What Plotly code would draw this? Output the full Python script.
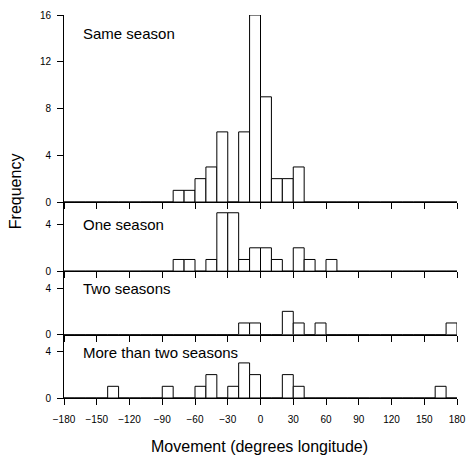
import plotly.graph_objects as go

bin_left = [-180, -170, -160, -150, -140, -130, -120, -110, -100, -90,
            -80, -70, -60, -50, -40, -30, -20, -10, 0, 10,
            20, 30, 40, 50, 60, 70, 80, 90, 100, 110,
            120, 130, 140, 150, 160, 170]

same_season = [0, 0, 0, 0, 0, 0, 0, 0, 0, 0,
               1, 1, 2, 3, 6, 0, 6, 16, 9, 2,
               2, 3, 0, 0, 0, 0, 0, 0, 0, 0,
               0, 0, 0, 0, 0, 0]
one_season = [0, 0, 0, 0, 0, 0, 0, 0, 0, 0,
              1, 1, 0, 1, 5, 5, 1, 2, 2, 1,
              0, 2, 1, 0, 1, 0, 0, 0, 0, 0,
              0, 0, 0, 0, 0, 0]
two_seasons = [0, 0, 0, 0, 0, 0, 0, 0, 0, 0,
               0, 0, 0, 0, 0, 0, 1, 1, 0, 0,
               2, 1, 0, 1, 0, 0, 0, 0, 0, 0,
               0, 0, 0, 0, 0, 1]
more_than_two = [0, 0, 0, 0, 1, 0, 0, 0, 0, 1,
                 0, 0, 1, 2, 0, 1, 3, 2, 0, 0,
                 2, 1, 0, 0, 0, 0, 0, 0, 0, 0,
                 0, 0, 0, 0, 1, 0]

panel_labels = ["Same season", "One season", "Two seasons", "More than two seasons"]
x_ticks = [-180, -150, -120, -90, -60, -30, 0, 30, 60, 90, 120, 150, 180]
series = [same_season, one_season, two_seasons, more_than_two]

FONT = "Liberation Sans, Arial, sans-serif"
W, H = 475, 459
# plot area in screenshot pixels
px_left, px_right, px_top, px_bottom = 64, 466, 13, 398
ml = px_left
mr = W - px_right
mt = px_top
mb = H - px_bottom
plot_h = px_bottom - px_top
plot_w = px_right - px_left
# panel boundaries (screenshot pixels)
bounds = [13, 201, 270.5, 334.3, 398]
y_max = [16, 5.92, 5.45, 5.42]
y_tickvals = [[0, 4, 8, 12, 16], [0, 4], [0, 4], [0, 4]]


def py_to_paper(py):
    return 1 - (py - px_top) / plot_h


fig = go.Figure()
layout = dict(
    width=W, height=H,
    margin=dict(l=ml, r=mr, t=mt, b=mb),
    paper_bgcolor="white", plot_bgcolor="white",
    showlegend=False,
    font=dict(family=FONT, color="black"),
    bargap=0,
    hovermode=False,
)
for i, counts in enumerate(series):
    n = "" if i == 0 else str(i + 1)
    fig.add_trace(go.Bar(
        x=bin_left, y=counts, width=10, offset=0, cliponaxis=False,
        marker=dict(color="white", line=dict(color="black", width=1)),
        xaxis="x" + n, yaxis="y" + n, hoverinfo="skip",
    ))
    layout["xaxis" + n] = dict(
        domain=[0, 1], range=[-180, 180], anchor="y" + n,
        tickvals=x_ticks, showticklabels=(i == 3),
        ticks="outside", ticklen=6, tickcolor="black", tickwidth=1,
        showline=True, linecolor="black", linewidth=1,
        showgrid=False, zeroline=False,
        tickfont=dict(size=10, family=FONT, color="black"),
        ticklabelstandoff=6,
    )
    layout["yaxis" + n] = dict(
        domain=[py_to_paper(bounds[i + 1]), py_to_paper(bounds[i])],
        range=[0, y_max[i]], anchor="x" + n,
        tickvals=y_tickvals[i],
        ticks="outside", ticklen=6, tickcolor="black", tickwidth=1,
        showline=True, linecolor="black", linewidth=1,
        showgrid=False, zeroline=False,
        tickfont=dict(size=10, family=FONT, color="black"),
        ticklabelstandoff=4,
    )

annotations = []
label_px = [32, 224, 288, 352]  # vertical centres in screenshot pixels
for text, py in zip(panel_labels, label_px):
    annotations.append(dict(
        text=text, xref="paper", yref="paper",
        x=(81 - px_left) / plot_w, y=py_to_paper(py),
        showarrow=False, xanchor="left", yanchor="middle",
        font=dict(size=15, family=FONT, color="black"),
    ))
annotations.append(dict(
    text="Frequency", xref="paper", yref="paper",
    x=(14 - px_left) / plot_w, y=py_to_paper(190),
    textangle=-90, showarrow=False, xanchor="center", yanchor="middle",
    font=dict(size=16, family=FONT, color="black"),
))
annotations.append(dict(
    text="Movement (degrees longitude)", xref="paper", yref="paper",
    x=(264 - px_left) / plot_w, y=py_to_paper(447),
    showarrow=False, xanchor="center", yanchor="middle",
    font=dict(size=16, family=FONT, color="black"),
))
layout["annotations"] = annotations
fig.update_layout(**layout)
fig.write_html(
    "out.html",
    config={"displayModeBar": False, "staticPlot": True},
    post_script="document.body.style.margin='0px';document.body.style.overflow='hidden';",
)
